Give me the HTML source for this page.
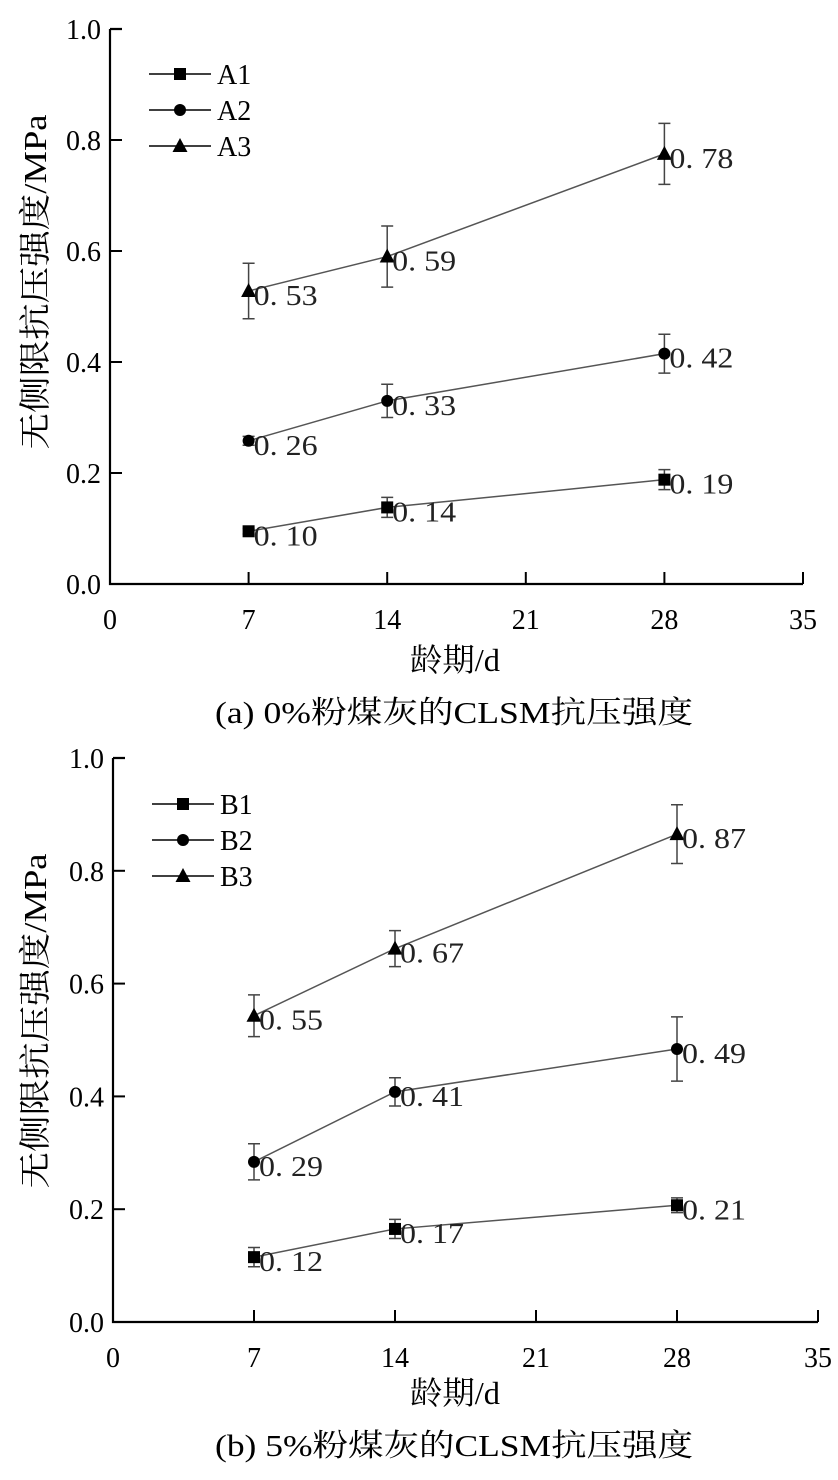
<!DOCTYPE html>
<html><head><meta charset="utf-8"><style>
html,body{margin:0;padding:0;background:#fff;}
svg text{font-family:"Liberation Serif","Noto Serif CJK SC","Noto Sans CJK SC",serif;}
</style></head><body>
<svg id="s" width="838" height="1475" viewBox="0 0 838 1475" xmlns="http://www.w3.org/2000/svg"></svg>
<script>
const days = [7, 14, 28];
const xTicks = [0, 7, 14, 21, 28, 35];
const yTicks = [0, 0.2, 0.4, 0.6, 0.8, 1.0];
const yTickLabels = ["0.0", "0.2", "0.4", "0.6", "0.8", "1.0"];
const namesA = ["A1", "A2", "A3"];
const namesB = ["B1", "B2", "B3"];
const a1 = [0.095, 0.138, 0.188], a1e = [0.005, 0.018, 0.018], a1l = ["0. 10", "0. 14", "0. 19"];
const a2 = [0.258, 0.330, 0.415], a2e = [0.008, 0.030, 0.035], a2l = ["0. 26", "0. 33", "0. 42"];
const a3 = [0.528, 0.590, 0.775], a3e = [0.050, 0.055, 0.055], a3l = ["0. 53", "0. 59", "0. 78"];
const b1 = [0.115, 0.165, 0.207], b1e = [0.017, 0.017, 0.013], b1l = ["0. 12", "0. 17", "0. 21"];
const b2 = [0.284, 0.408, 0.484], b2e = [0.032, 0.025, 0.057], b2l = ["0. 29", "0. 41", "0. 49"];
const b3 = [0.543, 0.662, 0.865], b3e = [0.037, 0.032, 0.052], b3l = ["0. 55", "0. 67", "0. 87"];

const NS = "http://www.w3.org/2000/svg";
const svg = document.getElementById('s');
function mk(tag, attrs, parent, txt) {
  const e = document.createElementNS(NS, tag);
  for (const k in attrs) e.setAttribute(k, attrs[k]);
  if (txt !== undefined) e.textContent = txt;
  (parent || svg).appendChild(e);
  return e;
}
function marker(g, kind, x, y, s) {
  let m;
  if (kind === 0) m = mk('rect', {x: x - s, y: y - s, width: 2 * s, height: 2 * s, fill: '#000'}, g);
  else if (kind === 1) m = mk('circle', {cx: x, cy: y, r: s, fill: '#000'}, g);
  else m = mk('polygon', {points: (x) + ',' + (y - s - 2) + ' ' + (x - s - 1.5) + ',' + (y + s) + ' ' + (x + s + 1.5) + ',' + (y + s), fill: '#000'}, g);
  return m;
}
function chart(id, L, T, R, B, names, series, errs, labels, legY, ytCenter, titleY, capY, caption) {
  const X = v => L + (v - 0) / 35 * (R - L);
  const Y = v => B - v * (B - T);
  const g = mk('g', {});
  
  
  const ax = mk('path', {d: `M${L},${T} H${L + 12} M${L},${T} V${B} H${R}`, stroke: '#000', 'stroke-width': 2.2, fill: 'none'}, g);
  
  
  yTicks.forEach((v, i) => {
    const t = mk('line', {x1: L, x2: L + 12, y1: Y(v), y2: Y(v), stroke: '#000', 'stroke-width': 2}, g);
    
    
    const tl = mk('text', {x: L - 9, y: Y(v) + 10, 'font-size': 28, 'text-anchor': 'end'}, g, yTickLabels[i]);
    
    
  });
  xTicks.forEach(v => {
    const t = mk('line', {x1: X(v), x2: X(v), y1: B, y2: B - 12, stroke: '#000', 'stroke-width': 2}, g);
    
    
    const tl = mk('text', {x: X(v), y: B + 45, 'font-size': 28, 'text-anchor': 'middle'}, g, String(v));
    
    
  });
  const yt = mk('text', {x: 0, y: 0, 'font-size': 32, 'text-anchor': 'middle', textLength: 335, lengthAdjust: 'spacingAndGlyphs', transform: `translate(46,${ytCenter}) rotate(-90)`}, g, '无侧限抗压强度/MPa');
  
  
  const xt = mk('text', {x: 455, y: titleY, 'font-size': 32, 'text-anchor': 'middle', textLength: 90, lengthAdjust: 'spacingAndGlyphs'}, g, '龄期/d');
  
  
  const cp = mk('text', {x: 454, y: capY, 'font-size': 31, 'text-anchor': 'middle', textLength: 478, lengthAdjust: 'spacingAndGlyphs'}, g, caption);
  
  
  series.forEach((vals, si) => {
    const sg = mk('g', {}, g);
    
    
    const pl = mk('polyline', {points: vals.map((v, i) => X(days[i]) + ',' + Y(v)).join(' '), fill: 'none', stroke: '#555', 'stroke-width': 1.5}, sg);
    
    
    vals.forEach((v, i) => {
      const x = X(days[i]), e = errs[si][i];
      const eb = mk('path', {d: `M${x},${Y(v + e)} V${Y(v - e)} M${x - 6},${Y(v + e)} H${x + 6} M${x - 6},${Y(v - e)} H${x + 6}`, stroke: '#444', 'stroke-width': 1.5, fill: 'none'}, sg);
      
      
      const m = marker(sg, si, x, Y(v), 6);
      
      
      const lb = mk('text', {x: x + 5, y: Y(v) + 14, 'font-size': 29, fill: '#222', textLength: 64, lengthAdjust: 'spacingAndGlyphs'}, sg, labels[si][i]);
      
      
    });
    const ly = legY + si * 36;
    const lg = mk('g', {}, g);
    
    
    mk('line', {x1: L + 39, x2: L + 101, y1: ly, y2: ly, stroke: '#000', 'stroke-width': 1.5}, lg);
    marker(lg, si, L + 70, ly, 6);
    mk('text', {x: L + 107, y: ly + 10, 'font-size': 28}, lg, names[si]);
  });
}
chart('chart-a', 110, 29, 803, 584, namesA, [a1, a2, a3], [a1e, a2e, a3e], [a1l, a2l, a3l], 74, 282, 671, 723, '(a) 0%粉煤灰的CLSM抗压强度');
chart('chart-b', 113, 758, 818, 1322, namesB, [b1, b2, b3], [b1e, b2e, b3e], [b1l, b2l, b3l], 804, 1021, 1404, 1456, '(b) 5%粉煤灰的CLSM抗压强度');
</script>
</body></html>
